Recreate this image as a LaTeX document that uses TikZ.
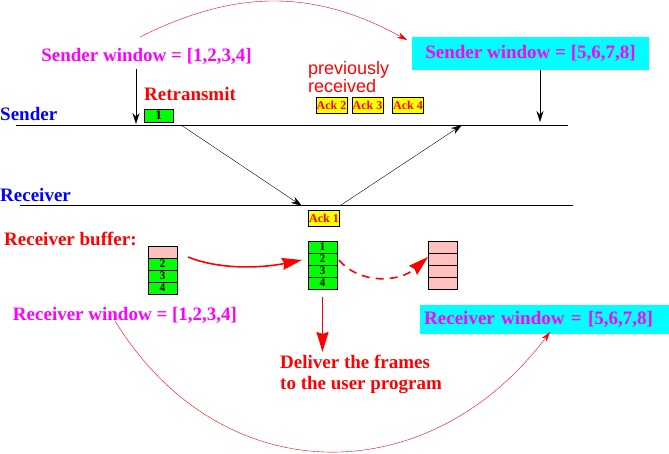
\documentclass[tikz,border=0pt]{standalone}
\usepackage{fontspec}
\setmainfont{Liberation Serif}
\newfontfamily\helvfont{Liberation Sans}
\usetikzlibrary{arrows.meta}
\usetikzlibrary{positioning}
\usepackage{xcolor}
\definecolor{winmag}{RGB}{255,0,255}
\definecolor{wincyan}{RGB}{0,255,255}
\definecolor{frgreen}{RGB}{0,255,0}
\definecolor{bufpink}{RGB}{255,192,192}
\definecolor{ackyel}{RGB}{255,255,0}

\tikzset{
  lbl/.style={inner sep=0pt, font=\fontsize{19}{21}\selectfont\bfseries},
  ackbox/.style={draw, fill=ackyel, text=red, minimum width=31pt, minimum height=16pt,
    inner sep=0pt, font=\fontsize{12}{12}\selectfont\bfseries},
  cell/.style={draw, minimum width=29pt, minimum height=12pt, inner sep=0pt,
    font=\fontsize{11.5}{11.5}\selectfont\bfseries},
  blkarrow/.style={-{Stealth[length=11pt,width=7pt]}},
  redarc/.style={red, -{Stealth[length=10pt,width=6pt]}},
  bigred/.style={red, line width=1.6pt, -{Stealth[length=20pt,width=12pt,inset=2pt]}}
}

\begin{document}
\begin{tikzpicture}[x=1pt,y=-1pt]
  \useasboundingbox (0,0) rectangle (669,454);

  % window labels
  \node[lbl, text=winmag] (sw1) at (146.5,56) {Sender window = [1,2,3,4]};
  \node[lbl, text=winmag, fill=wincyan, minimum width=237pt, minimum height=33pt] (sw2) at (530.5,53.5) {Sender window = [5,6,7,8]};
  \node[lbl, text=winmag] (rw1) at (125,315.5) {Receiver window = [1,2,3,4]};
  \node[lbl, text=winmag, fill=wincyan, anchor=west, text width=241pt, inner xsep=4pt,
    minimum height=29pt, align=left] (rw2) at (420,319.5) {Receiver window = [5,6,7,8]};

  \node[lbl, text=blue, anchor=west] (snd) at (0,114.5) {Sender};
  \node[lbl, text=blue, anchor=west] (rcv) at (0,195) {Receiver};
  \node[lbl, text=red] (retx) at (190,94.5) {Retransmit};
  \node[lbl, text=red, anchor=west] (rbuf) at (4,238.5) {Receiver buffer:};
  \node[lbl, text=red, anchor=north west, align=left] (dl) at (280,355) {Deliver the frames\\to the user program};
  \node[anchor=north west, align=left, inner sep=0pt, text=red,
    font=\helvfont\fontsize{18}{15}\selectfont] (prev) at (308,61) {previously\\received};

  % frames and acks
  \node[cell, fill=frgreen, minimum height=13pt, font=\fontsize{13}{13}\selectfont\bfseries] (f1) at (158.5,115.5) {1};
  \node[ackbox] (ack2) at (331.5,105) {Ack 2};
  \node[ackbox] (ack3) at (367.5,105) {Ack 3};
  \node[ackbox] (ack4) at (408,105) {Ack 4};
  \node[ackbox] (ack1) at (324,218) {Ack 1};

  % buffers
  \foreach \i/\f/\t in {1/bufpink/,2/frgreen/2,3/frgreen/3,4/frgreen/4}
    \node[cell, fill=\f] (lb\i) at (162.5,240+12*\i) {\t};
  \foreach \i in {1,...,4}
    \node[cell, fill=frgreen] (mb\i) at (322.5,235+12*\i) {\i};
  \foreach \i in {1,...,4}
    \node[cell, fill=bufpink] (rb\i) at (442.5,235+12*\i) {};

  % time lines
  \coordinate (sl0) at (16,125);
  \coordinate (sl1) at (568,125);
  \coordinate (rl0) at (20,205);
  \coordinate (rl1) at (573,205);
  \draw (sl0) -- (sl1);
  \draw (rl0) -- (rl1);

  % black arrows
  \coordinate (sa0) at (136,69);
  \coordinate (sa1) at (136,124);
  \coordinate (sb1) at (540,122);
  \draw[blkarrow] (sa0) -- (sa1);
  \draw[blkarrow] (sw2.south -| sb1) -- (sb1);
  \coordinate (d1a) at (181,125);
  \coordinate (d1b) at (302,206);
  \coordinate (d2a) at (341,205);
  \coordinate (d2b) at (462,125);
  \draw[blkarrow] (d1a) -- (d1b);
  \draw[blkarrow] (d2a) -- (d2b);

  % window moves
  \coordinate (ta0) at (140,37);
  \coordinate (ta1) at (407,40);
  \draw[redarc] (ta0) .. controls (236,-11) and (314,-11) .. (ta1);
  \coordinate (ba0) at (115,321);
  \coordinate (ba1) at (550,332);
  \draw[redarc] (ba0) .. controls (221,493) and (429,493) .. (ba1);

  % buffer moves
  \coordinate (sr0) at (188,257);
  \coordinate (sr1) at (302,260);
  \draw[bigred] (sr0) .. controls (220,270) and (262,268) .. (sr1);
  \coordinate (dr0) at (339,260);
  \coordinate (dr1) at (428,257);
  \draw[bigred, dash pattern=on 8pt off 6pt] (dr0) .. controls (360,285) and (400,282) .. (dr1);
  \draw[bigred, shorten <=8pt, shorten >=3pt] (mb4.south) -- (dl.north -| mb4.south);
\end{tikzpicture}
\end{document}
